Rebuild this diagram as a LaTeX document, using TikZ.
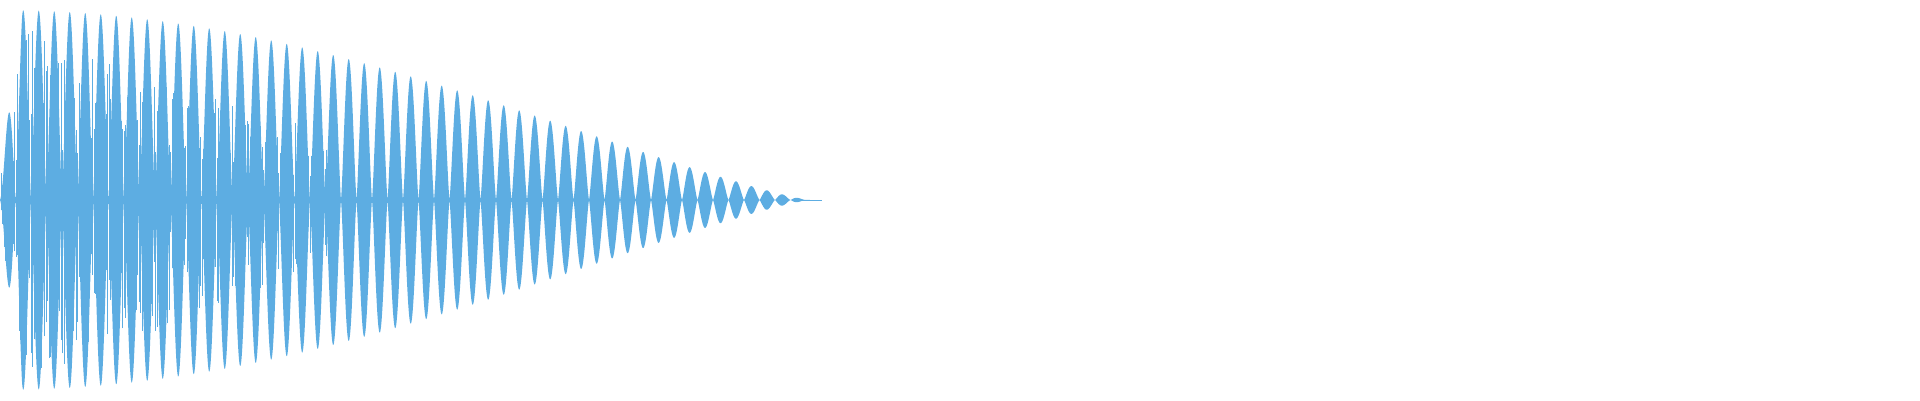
\documentclass[tikz,border=0pt]{standalone}
\definecolor{wavec}{HTML}{5DADE2}
\tikzset{wave/.style={fill=wavec,draw=none},spike/.style={draw=wavec,line width=0.35pt}}
\begin{document}
\begin{tikzpicture}[x=0.02cm,y=0.02cm]
\useasboundingbox (0,0) rectangle (1920,400);
\pgfmathsetseed{7}
\fill[wave] plot[domain=0:815,samples=2500] (\x,{200+190*(max(cos(min(\x,810)/9),0.0001))^1.2*min(1,(\x+3)/25)*(max(abs(sin(\x*11.6129)),0.0001))^1.3})
 -- plot[domain=815:0,samples=2500] (\x,{200-190*(max(cos(min(\x,810)/9),0.0001))^1.2*min(1,(\x+3)/25)*(max(abs(sin(\x*11.6129)),0.0001))^1.3}) -- cycle;
\foreach \i in {1,2.5,...,330}{
  \pgfmathsetmacro{\e}{185*cos(\i/9)*min(1,(\i+3)/25)*(1-\i/600)}
  \pgfmathsetmacro{\hu}{\e*(0.25+0.75*rnd)}
  \pgfmathsetmacro{\hd}{\e*(0.25+0.75*rnd)}
  \draw[spike] (\i,200-\hd) -- (\i,200+\hu);
}
\draw[spike] (800,200) -- (822,200);
\end{tikzpicture}
\end{document}
